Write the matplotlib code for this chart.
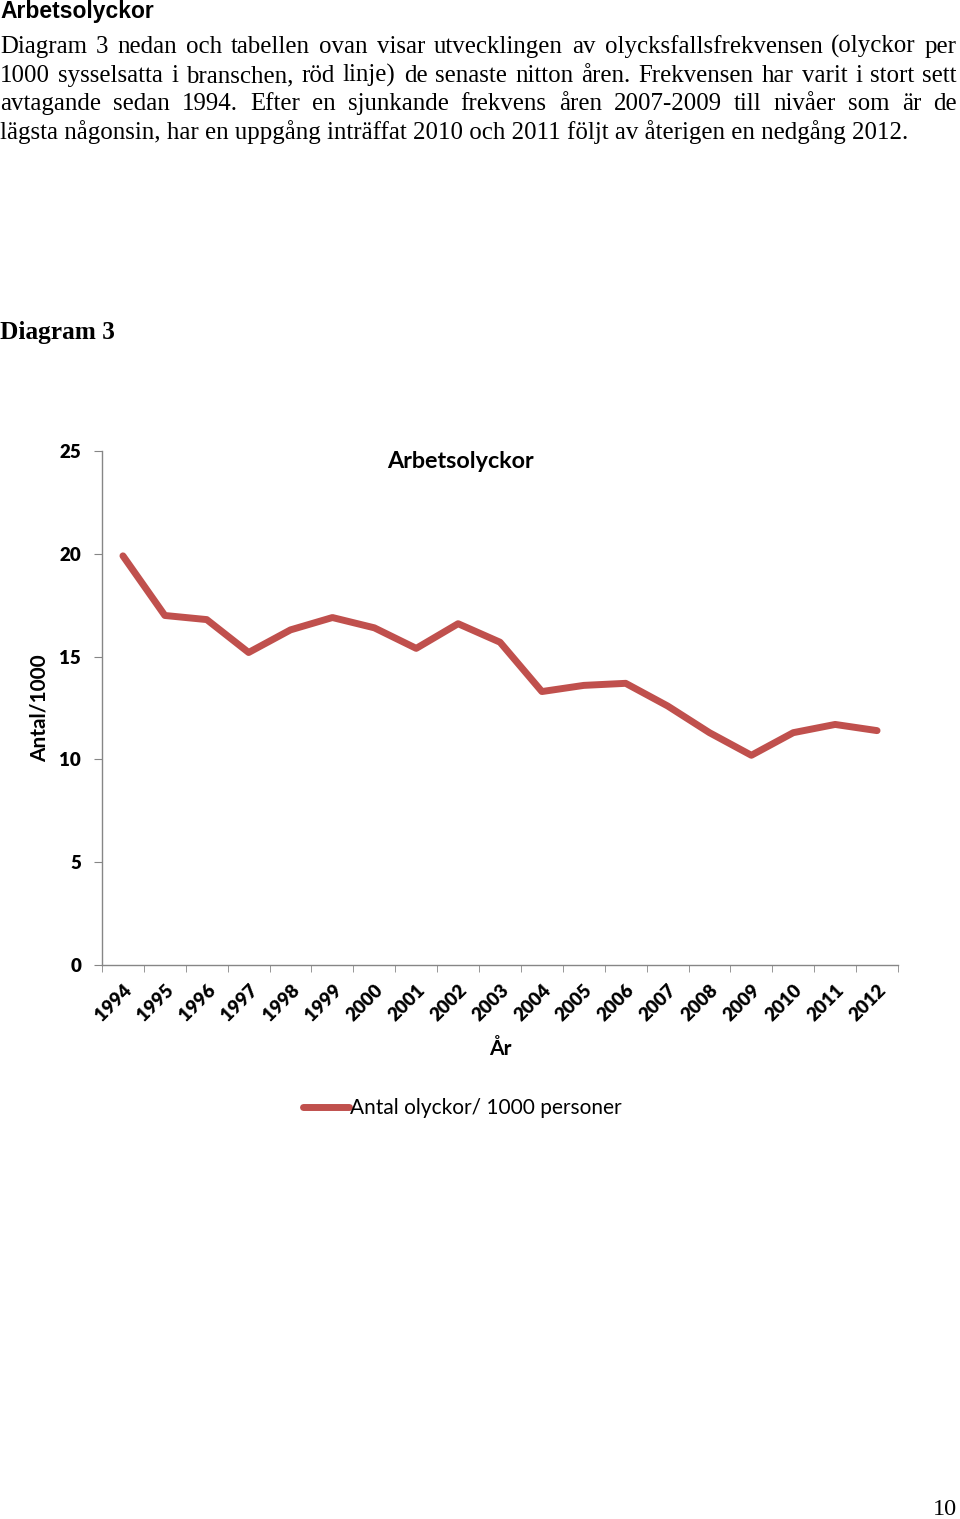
import matplotlib
matplotlib.use("Agg")
import matplotlib.pyplot as plt

W, H = 960, 1519

years = [str(y) for y in range(1994, 2013)]
rate = [19.9, 17.0, 16.8, 15.2, 16.3, 16.9, 16.4, 15.4, 16.6, 15.7,
        13.3, 13.6, 13.7, 12.6, 11.3, 10.2, 11.3, 11.7, 11.4]
yticks = [0, 5, 10, 15, 20, 25]

heading = "Arbetsolyckor"
paragraph = [
    "Diagram 3 nedan och tabellen ovan visar utvecklingen av olycksfallsfrekvensen (olyckor per",
    "1000 sysselsatta i branschen, röd linje) de senaste nitton åren.  Frekvensen har varit i stort sett",
    "avtagande sedan 1994. Efter en sjunkande frekvens åren 2007-2009 till nivåer som är de",
    "lägsta någonsin, har en uppgång inträffat 2010 och 2011 följt av återigen en nedgång 2012.",
]
chart_title = "Arbetsolyckor"
ylabel = "Antal/1000"
xlabel = "År"
series_name = "Antal olyckor/ 1000 personer"

red = "#C0504D"
grey = "#868686"
serif = "Liberation Serif"
sans = "Lato"


def fx(px):
    return px / W


def fy(py):
    return 1 - py / H


fig = plt.figure(figsize=(W / 100, H / 100), dpi=100)
fig.patch.set_facecolor("white")

# page text
fig.text(fx(0), fy(18), heading, family="Liberation Sans", weight="bold",
         fontsize=16.5, va="baseline", ha="left")

renderer = fig.canvas.get_renderer()
body_size = 17.9
left, right = 0, 957
baselines = [53, 82, 110, 139]
for i, line in enumerate(paragraph):
    y = fy(baselines[i])
    if i == len(paragraph) - 1:
        fig.text(fx(left), y, line, family=serif, fontsize=body_size,
                 va="baseline", ha="left")
        continue
    words = line.split()
    texts = [fig.text(0, y, w, family=serif, fontsize=body_size,
                      va="baseline", ha="left") for w in words]
    widths = [t.get_window_extent(renderer).width for t in texts]
    gap = (right - left - sum(widths)) / (len(words) - 1)
    x = left
    for t, wd in zip(texts, widths):
        t.set_x(fx(x))
        x += wd + gap

fig.text(fx(0), fy(339), "Diagram 3", family=serif, weight="bold",
         fontsize=18.3, va="baseline", ha="left")
fig.text(fx(957), fy(1515), "10", family=serif, fontsize=17.5,
         va="baseline", ha="right")

# chart
ax = fig.add_axes([fx(102), fy(965), fx(898) - fx(102), (965 - 451) / H])
x = list(range(len(years)))
line, = ax.plot(x, rate, color=red, lw=5, solid_capstyle="round",
                solid_joinstyle="round", label=series_name)
ax.set_xlim(-0.5, len(years) - 0.5)
ax.set_ylim(0, 25)
ax.set_yticks(yticks)
ax.set_yticklabels([str(v) for v in yticks])
ax.set_xticks(x)
ax.set_xticklabels(years, rotation=45, ha="right", rotation_mode="anchor")
ax.set_xticks([i - 0.5 for i in range(len(years) + 1)], minor=True)

for s in ["top", "right"]:
    ax.spines[s].set_visible(False)
for s in ["left", "bottom"]:
    ax.spines[s].set_color(grey)
    ax.spines[s].set_linewidth(1.0)

ax.tick_params(axis="y", length=6, color=grey, pad=9, labelsize=13.5)
ax.tick_params(axis="x", which="major", length=0, pad=12, labelsize=13.5)
ax.tick_params(axis="x", which="minor", length=5, color=grey)
for lab in ax.get_xticklabels() + ax.get_yticklabels():
    lab.set_family(sans)
    lab.set_weight("heavy")

fig.text(fx(460), fy(468), chart_title, family=sans, weight="bold",
         fontsize=16.8, ha="center", va="baseline")
fig.text(fx(40), fy(708), ylabel, family=sans, weight="bold", fontsize=15,
         rotation=90, ha="center", va="center")
fig.text(fx(500), fy(1055), xlabel, family=sans, weight="bold", fontsize=15,
         ha="center", va="baseline")

fig.legend(handles=[line], loc="center", bbox_to_anchor=(fx(462), fy(1108)),
           frameon=False, prop={"family": sans, "size": 15},
           handlelength=2.2, handletextpad=0.05)

fig.savefig("out.png", dpi=100, facecolor="white")
